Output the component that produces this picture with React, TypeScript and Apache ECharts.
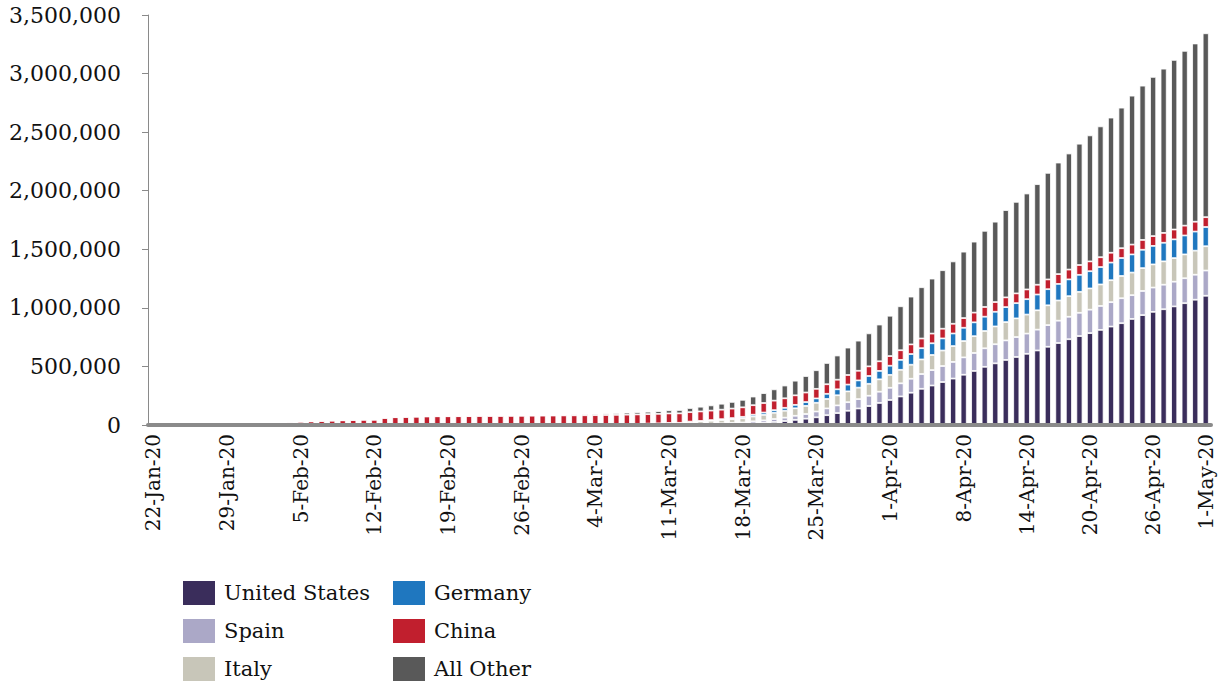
import React, { useEffect, useRef } from "react";
import * as echarts from "echarts";

const MONTHS = ["Jan", "Feb", "Mar", "Apr", "May"];
const MONTH_DAYS = [
  [22, 31],
  [1, 29],
  [1, 31],
  [1, 30],
  [1, 1],
];
const categories: string[] = [];
MONTH_DAYS.forEach(([a, b], m) => {
  for (let d = a; d <= b; d++) categories.push(`${d}-${MONTHS[m]}-20`);
});

const shownLabels = [
  "22-Jan-20", "29-Jan-20", "5-Feb-20", "12-Feb-20", "19-Feb-20", "26-Feb-20",
  "4-Mar-20", "11-Mar-20", "18-Mar-20", "25-Mar-20", "1-Apr-20", "8-Apr-20",
  "14-Apr-20", "20-Apr-20", "26-Apr-20", "1-May-20",
];

const yTicks = [0, 500000, 1000000, 1500000, 2000000, 2500000, 3000000, 3500000];

const unitedStates = [
  1, 1, 2, 2, 5, 5, 5, 5, 5, 7,
  8, 8, 11, 11, 11, 11, 11, 11, 11, 11, 12, 12, 13, 13, 13, 13, 13, 13, 13, 13, 15, 15, 15, 51, 51, 57, 58, 60, 68,
  74, 98, 118, 149, 217, 262, 402, 518, 583, 959, 1281, 1663, 2179, 2727, 3499, 4632, 6421, 7786, 13680, 19101, 25493, 33746, 43667, 53740, 65778, 83836, 101657, 121465, 140909, 161831, 188172,
  213372, 243762, 275586, 308853, 337072, 366667, 396223, 429052, 461437, 496535, 526396, 555313, 580619, 607670, 636350, 667801, 699706, 732197, 759086, 784326, 811865, 840351, 869170, 905358, 938154, 965785, 988197, 1012582, 1039909, 1069424,
  1103461,
];

const spain = [
  0, 0, 0, 0, 0, 0, 0, 0, 0, 0,
  1, 1, 1, 1, 1, 1, 1, 1, 2, 2, 2, 2, 2, 2, 2, 2, 2, 2, 2, 2, 2, 2, 2, 2, 6, 13, 15, 32, 45,
  84, 120, 165, 222, 259, 400, 500, 673, 1073, 1695, 2277, 2277, 5232, 6391, 7798, 9942, 11748, 13910, 17963, 20410, 25374, 28768, 35136, 39885, 49515, 57786, 65719, 73235, 80110, 87956, 95923,
  104118, 112065, 119199, 126168, 131646, 136675, 141942, 148220, 153222, 158273, 163027, 166831, 170099, 172541, 177644, 184948, 190839, 191726, 198674, 200210, 204178, 208389, 213024, 202990, 205905, 207634, 209465, 210773, 212917, 213435,
  215216,
];

const italy = [
  0, 0, 0, 0, 0, 0, 0, 0, 0, 2,
  2, 2, 2, 2, 2, 2, 3, 3, 3, 3, 3, 3, 3, 3, 3, 3, 3, 3, 3, 3, 20, 62, 155, 229, 322, 453, 655, 888, 1128,
  1694, 2036, 2502, 3089, 3858, 4636, 5883, 7375, 9172, 10149, 12462, 12462, 17660, 21157, 24747, 27980, 31506, 35713, 41035, 47021, 53578, 59138, 63927, 69176, 74386, 80589, 86498, 92472, 97689, 101739, 105792,
  110574, 115242, 119827, 124632, 128948, 132547, 135586, 139422, 143626, 147577, 152271, 156363, 159516, 162488, 165155, 168941, 172434, 175925, 178972, 181228, 183957, 187327, 189973, 192994, 195351, 197675, 199414, 201505, 203591, 205463,
  207428,
];

const germany = [
  0, 0, 0, 0, 0, 1, 4, 4, 4, 5,
  8, 10, 12, 12, 12, 12, 13, 13, 14, 14, 16, 16, 16, 16, 16, 16, 16, 16, 16, 16, 16, 16, 16, 16, 17, 27, 46, 48, 79,
  130, 159, 196, 262, 482, 670, 799, 1040, 1176, 1457, 1908, 2078, 3675, 4585, 5795, 7272, 9257, 12327, 15320, 19848, 22213, 24873, 29056, 32986, 37323, 43938, 50871, 57695, 62095, 66885, 71808,
  77872, 84794, 91159, 96092, 100123, 103374, 107663, 113296, 118181, 122171, 124908, 127854, 130072, 131359, 134753, 137698, 141397, 143342, 145184, 147065, 148291, 150648, 153129, 154999, 156513, 157770, 158758, 159912, 161539, 163009,
  164077,
];

const china = [
  548, 643, 920, 1406, 2075, 2877, 5509, 6087, 8141, 9802,
  11891, 16630, 19716, 23707, 27440, 30587, 34110, 36814, 39829, 42354, 44386, 44759, 59895, 66358, 68413, 70513, 72434, 74211, 74619, 75077, 75550, 77001, 77022, 77241, 77754, 78166, 78600, 78928, 79356,
  79932, 80136, 80261, 80386, 80537, 80690, 80770, 80823, 80860, 80887, 80921, 80932, 80945, 80977, 81003, 81033, 81058, 81102, 81156, 81250, 81305, 81435, 81498, 81591, 81661, 81782, 81897, 81999, 82122, 82198, 82279,
  82361, 82432, 82511, 82543, 82602, 82665, 82718, 82809, 82883, 82941, 83014, 83134, 83213, 83306, 83356, 83403, 83760, 83787, 83805, 83817, 83853, 83868, 83884, 83899, 83909, 83912, 83918, 83940, 83944, 83956,
  83959,
];

const allOther = [
  6, 10, 19, 26, 38, 44, 60, 70, 84, 111,
  128, 136, 145, 165, 177, 189, 257, 287, 300, 384, 391, 436, 452, 517, 605, 688, 802, 907, 999, 1101, 1238, 1506, 1772, 2007, 2249, 2660, 3364, 4166, 5338,
  6457, 7760, 9602, 11016, 12533, 15142, 17482, 19406, 20718, 23435, 27016, 28931, 35502, 40260, 44607, 50672, 57156, 64072, 73554, 84536, 96561, 108993, 124951, 140667, 158990, 181660, 206649, 233840, 257192, 281756, 313513,
  344308, 375171, 407635, 437772, 469363, 499553, 532344, 567005, 605929, 650029, 686034, 745226, 781319, 818827, 858796, 909646, 952054, 990782, 1035657, 1075613, 1117150, 1153485, 1199705, 1270953, 1316914, 1358699, 1402012, 1447686, 1491986, 1521559,
  1569636,
];

const seriesNames = ["United States", "Spain", "Italy", "Germany", "China", "All Other"];
const seriesData = [unitedStates, spain, italy, germany, china, allOther];
const seriesColors = ["#3a2d5b", "#aba8c7", "#c8c6b9", "#1f77bf", "#c11f2e", "#595959"];

const FONT = "'DejaVu Serif', Georgia, serif";

export default function App() {
  const ref = useRef<HTMLDivElement>(null);
  useEffect(() => {
    if (!ref.current) return;
    const chart = echarts.init(ref.current, undefined, { renderer: "svg" });
    const legendLeft = [181, 181, 181, 391, 391, 391];
    const legendTop = [579, 617, 655, 579, 617, 655];
    chart.setOption({
      animation: false,
      backgroundColor: "#ffffff",
      grid: { left: 148, right: 8, top: 15, bottom: 261, containLabel: false },
      legend: seriesNames.map((name, i) => ({
        left: legendLeft[i],
        top: legendTop[i],
        padding: 0,
        itemWidth: 34,
        itemHeight: 26,
        icon: "rect",
        selectedMode: false,
        data: [name],
        textStyle: { fontFamily: FONT, fontSize: 21, color: "#111", padding: [0, 0, 0, 3] },
      })),
      xAxis: {
        type: "category",
        data: categories,
        z: 5,
        axisLine: { show: true, lineStyle: { color: "#8a8a8a", width: 4 } },
        axisTick: { show: false },
        axisLabel: {
          interval: (_i: number, v: string) => shownLabels.includes(v),
          rotate: 90,
          margin: 9,
          fontFamily: FONT,
          fontSize: 20,
          color: "#111",
        },
      },
      yAxis: {
        type: "value",
        min: yTicks[0],
        max: yTicks[yTicks.length - 1],
        interval: 500000,
        splitLine: { show: false },
        axisLine: { show: true, lineStyle: { color: "#8a8a8a", width: 1 } },
        axisTick: { show: true, length: 6, lineStyle: { color: "#8a8a8a" } },
        axisLabel: {
          margin: 27,
          fontFamily: FONT,
          fontSize: 22,
          color: "#111",
          formatter: (v: number) => v.toLocaleString("en-US"),
        },
      },
      series: seriesNames.map((name, i) => ({
        name,
        type: "bar",
        stack: "total",
        barWidth: "58%",
        data: seriesData[i],
        itemStyle: { color: seriesColors[i], borderColor: "#ffffff", borderWidth: 0.8 },
      })),
    });
    return () => chart.dispose();
  }, []);
  return (
    <div
      ref={ref}
      style={{ position: "absolute", left: 0, top: 0, width: 1219, height: 686 }}
    />
  );
}
